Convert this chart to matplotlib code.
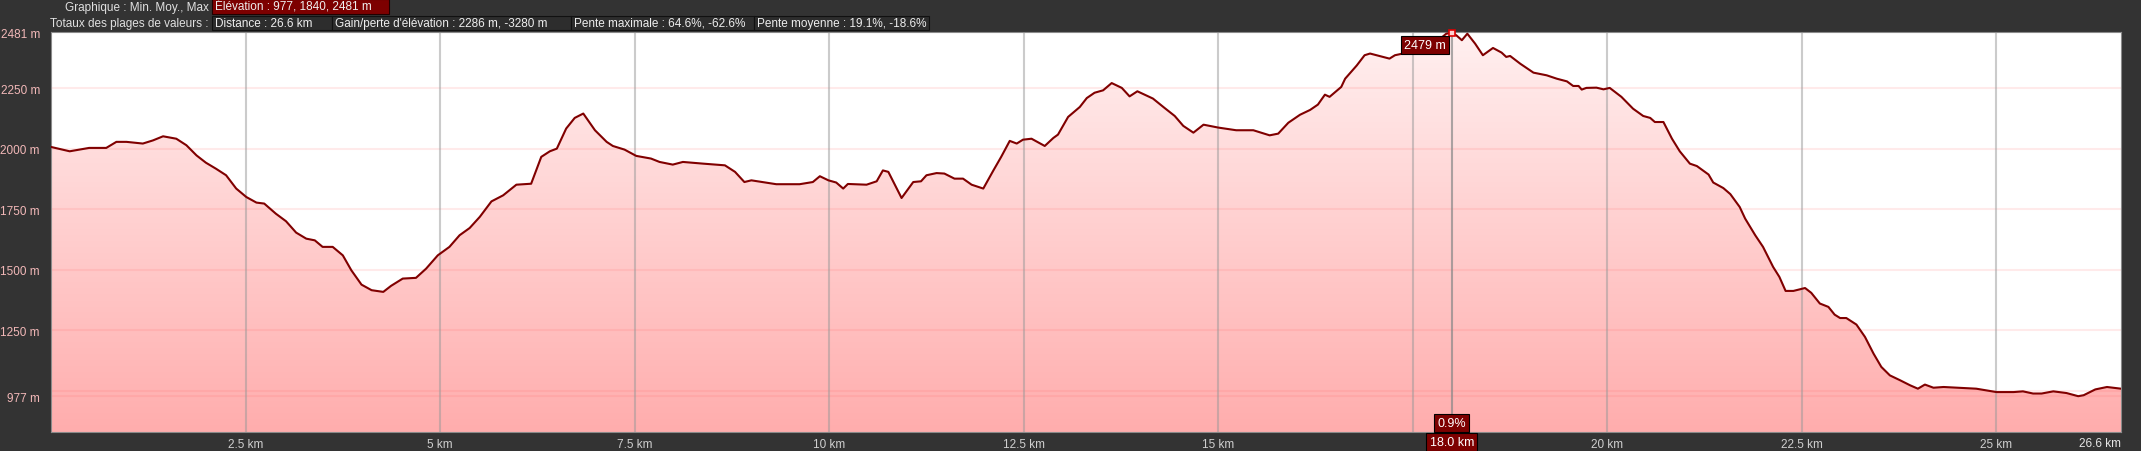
import numpy as np
import matplotlib.pyplot as plt
from matplotlib.colors import LinearSegmentedColormap
from matplotlib.patches import Rectangle, Polygon
from matplotlib import transforms

plt.rcParams['font.family'] = ['Liberation Sans Narrow', 'Liberation Sans', 'DejaVu Sans']

# elevation profile
dist_km = [0.00, 0.24, 0.49, 0.71, 0.84, 0.97, 1.18, 1.31, 1.44, 1.61,
           1.74, 1.87, 1.99, 2.12, 2.25, 2.38, 2.51, 2.64, 2.74, 2.89,
           3.02, 3.15, 3.28, 3.39, 3.49, 3.62, 3.75, 3.86, 3.99, 4.12,
           4.27, 4.37, 4.52, 4.69, 4.82, 4.97, 5.12, 5.25, 5.38,
           5.51, 5.66, 5.81, 5.98, 6.17, 6.30, 6.41, 6.50, 6.62, 6.73,
           6.84, 6.99, 7.14, 7.22, 7.37, 7.52, 7.71, 7.82, 7.99, 8.12,
           8.38, 8.66, 8.79, 8.91, 9.00, 9.32, 9.62, 9.79, 9.88, 9.99,
           10.09, 10.18, 10.24, 10.48, 10.61, 10.69, 10.76,
           10.93, 11.08, 11.18, 11.25, 11.38, 11.48, 11.61, 11.72, 11.83, 11.98,
           12.11, 12.21, 12.32, 12.41, 12.49, 12.60, 12.77, 12.88, 12.94, 13.07,
           13.22, 13.31, 13.41, 13.52, 13.63, 13.76, 13.86, 13.96, 14.16, 14.31,
           14.44, 14.55, 14.68, 14.81, 15.00, 15.23, 15.45, 15.66, 15.77, 15.90,
           16.05, 16.18,
           16.28, 16.37, 16.43, 16.58, 16.63, 16.78, 16.88, 16.95, 17.08, 17.20,
           17.27, 17.46, 17.55, 17.68, 17.80, 17.93, 18.00, 18.06, 18.13, 18.20,
           18.30, 18.40, 18.53, 18.64, 18.70, 18.75, 18.88, 19.05, 19.22, 19.35,
           19.48, 19.56, 19.63, 19.67, 19.73, 19.86, 19.95, 20.03, 20.18, 20.33,
           20.46, 20.55, 20.61, 20.72, 20.83, 20.93, 21.06, 21.15, 21.30, 21.36,
           21.49, 21.58,
           21.70, 21.77, 21.90, 22.00, 22.13, 22.21, 22.29, 22.39, 22.54, 22.62,
           22.73, 22.84, 22.92, 22.99, 23.07, 23.20, 23.31, 23.42, 23.52, 23.63,
           23.76, 23.89, 23.99, 24.08, 24.19, 24.32, 24.57, 24.74, 24.87, 25.00,
           25.22, 25.34, 25.47, 25.58, 25.73, 25.90, 26.05, 26.12, 26.27, 26.42,
           26.60]
elev_m = [2007, 1989, 2003, 2003, 2028, 2028, 2021, 2034, 2051, 2041,
          2014, 1972, 1942, 1917, 1890, 1835, 1800, 1777, 1773, 1731,
          1700, 1653, 1628, 1621, 1594, 1594, 1559, 1497, 1438, 1415,
          1408, 1433, 1463, 1466, 1504, 1559, 1594, 1642, 1672,
          1718, 1782, 1807, 1851, 1855, 1966, 1989, 2000, 2083, 2127,
          2145, 2076, 2028, 2011, 1996, 1970, 1959, 1945, 1934, 1945,
          1938, 1931, 1904, 1862, 1869, 1853, 1853, 1862, 1886, 1869,
          1860, 1835, 1854, 1851, 1865, 1910, 1904,
          1796, 1862, 1865, 1890, 1899, 1897, 1876, 1876, 1851, 1835,
          1910, 1966, 2032, 2021, 2037, 2041, 2011, 2044, 2058, 2131,
          2172, 2209, 2231, 2241, 2271, 2251, 2216, 2237, 2207, 2168,
          2135, 2094, 2066, 2099, 2087, 2076, 2076, 2055, 2062, 2107,
          2140, 2160,
          2182, 2223, 2214, 2255, 2289, 2344, 2386, 2393, 2382, 2372,
          2386, 2399, 2406, 2420, 2441, 2475, 2479, 2468, 2448, 2475,
          2434, 2386, 2416, 2397, 2379, 2383, 2351, 2314, 2303, 2289,
          2278, 2259, 2259, 2244, 2251, 2252, 2245, 2251, 2214, 2165,
          2135, 2127, 2110, 2110, 2041, 1989, 1938, 1928, 1893, 1860,
          1837, 1812,
          1759, 1711, 1642, 1594, 1511, 1470, 1412, 1412, 1424, 1404,
          1360, 1346, 1314, 1300, 1300, 1273, 1222, 1153, 1098, 1063,
          1043, 1022, 1008, 1025, 1012, 1015, 1011, 1008, 1001, 994,
          994, 997, 988, 988, 997, 990, 977, 981, 1005, 1015,
          1008]

x_ticks = [2.5, 5, 7.5, 10, 12.5, 15, 17.5, 20, 22.5, 25]
# 17.5 km label is hidden behind the cursor label in the original
x_tick_labels = ['2.5 km', '5 km', '7.5 km', '10 km', '12.5 km', '15 km',
                 '', '20 km', '22.5 km', '25 km']
total_label = '26.6 km'
y_ticks = [977, 1250, 1500, 1750, 2000, 2250, 2481]
y_tick_labels = ['977 m', '1250 m', '1500 m', '1750 m', '2000 m', '2250 m', '2481 m']
y_grid = [977, 1000, 1250, 1500, 1750, 2000, 2250]

cursor_km = 18.0
cursor_elev = 2479
cursor_elev_label = '2479 m'
cursor_slope_label = '0.9%'
cursor_km_label = '18.0 km'

header_row1_title = 'Graphique : Min. Moy., Max'
header_row1_box = 'Élévation : 977, 1840, 2481 m'
header_row2_title = 'Totaux des plages de valeurs :'
header_row2_boxes = ['Distance : 26.6 km', "Gain/perte d'élévation : 2286 m, -3280 m",
                     'Pente maximale : 64.6%, -62.6%', 'Pente moyenne : 19.1%, -18.6%']

W, H = 2141, 452
BG = '#333333'
DARK_RED = '#7d0000'

fig = plt.figure(figsize=(W / 100, H / 100), dpi=100, facecolor=BG)
ax = fig.add_axes([51 / W, (H - 433) / H, (2121 - 51) / W, (433 - 33) / H])
ax.set_facecolor('white')
ax.set_xlim(0, 26.6)
ax.set_ylim(829, 2482)

# gradient fill under the profile
x = np.array(dist_km)
y = np.array(elev_m)
cmap = LinearSegmentedColormap.from_list('pink', ['#ffadad', '#fff0f0'])
grad = np.linspace(0, 1, 256).reshape(-1, 1)
im = ax.imshow(grad, cmap=cmap, aspect='auto', origin='lower',
               extent=[0, 26.6, 829, 2482], zorder=1)
verts = np.column_stack([np.r_[x[0], x, x[-1]], np.r_[829, y, 829]])
clip = Polygon(verts, closed=True, transform=ax.transData, facecolor='none', edgecolor='none')
ax.add_patch(clip)
im.set_clip_path(clip)

for g in y_grid:
    ax.axhline(g, color='#ff6060', alpha=0.13, lw=1.5, zorder=2)
for t in x_ticks:
    ax.axvline(t, color='#999999', alpha=0.5, lw=1.5, zorder=2)
ax.axvline(cursor_km, color='#888888', alpha=0.7, lw=1.5, zorder=2)

ax.plot(x, y, color='#800000', lw=1.5, zorder=3)
ax.plot([cursor_km], [cursor_elev], marker='s', ms=5, mfc='#ffd0d0', mec='#dd0000',
        mew=1.2, clip_on=False, zorder=5)

ax.set_xticks(x_ticks)
ax.set_xticklabels(x_tick_labels)
ax.set_yticks(y_ticks)
ax.set_yticklabels(y_tick_labels)
ax.tick_params(axis='x', length=0, pad=4, labelsize=8.5, labelcolor='#cfcfcf')
ax.tick_params(axis='y', length=0, pad=8, labelsize=8.5, labelcolor='#f2b8b8')
ax.text(1.0, -0.012, total_label, transform=ax.transAxes, ha='right', va='top',
        fontsize=8.5, color='#e6e6e6')
for s in ax.spines.values():
    s.set_color('#8a8a8a')
    s.set_linewidth(0.8)

box_kw = dict(boxstyle='square,pad=0.25', facecolor=DARK_RED, edgecolor='black', lw=0.8)
ax.annotate(cursor_elev_label, xy=(cursor_km, cursor_elev), xytext=(-6, -12),
            textcoords='offset pixels', ha='right', va='center', fontsize=9,
            color='white', bbox=box_kw, zorder=6, annotation_clip=False)
blend = transforms.blended_transform_factory(ax.transData, ax.transAxes)
ax.annotate(cursor_slope_label, xy=(cursor_km, 0), xycoords=blend, xytext=(0, 9),
            textcoords='offset pixels', ha='center', va='center', fontsize=9,
            color='white', bbox=box_kw, zorder=6, annotation_clip=False)
ax.annotate(cursor_km_label, xy=(cursor_km, 0), xycoords=blend, xytext=(0, -10),
            textcoords='offset pixels', ha='center', va='center', fontsize=9,
            color='white', bbox=box_kw, zorder=6, annotation_clip=False)


# header rows, laid out in figure pixels
def fx(px):
    return px / W


def fy(py):
    return 1 - py / H


def header_box(x0, x1, y0, y1, text, face, edge):
    fig.add_artist(Rectangle((fx(x0), fy(y1)), fx(x1 - x0), (y1 - y0) / H,
                             transform=fig.transFigure, facecolor=face,
                             edgecolor=edge, lw=0.8))
    fig.text(fx(x0 + 3), fy((y0 + y1) / 2), text, ha='left', va='center',
             fontsize=8.5, color='#eeeeee')


fig.text(fx(209), fy(7.5), header_row1_title, ha='right', va='center', fontsize=8.5, color='#e0e0e0')
header_box(212, 389, 0, 15, header_row1_box, DARK_RED, '#220000')

fig.text(fx(209), fy(24), header_row2_title, ha='right', va='center', fontsize=8.5, color='#e0e0e0')
box_edges = [212, 332, 571, 754, 929]
for i, label in enumerate(header_row2_boxes):
    header_box(box_edges[i], box_edges[i + 1], 17, 31, label, '#2d2d2d', '#111111')

fig.savefig('out.png', dpi=100, facecolor=BG)
